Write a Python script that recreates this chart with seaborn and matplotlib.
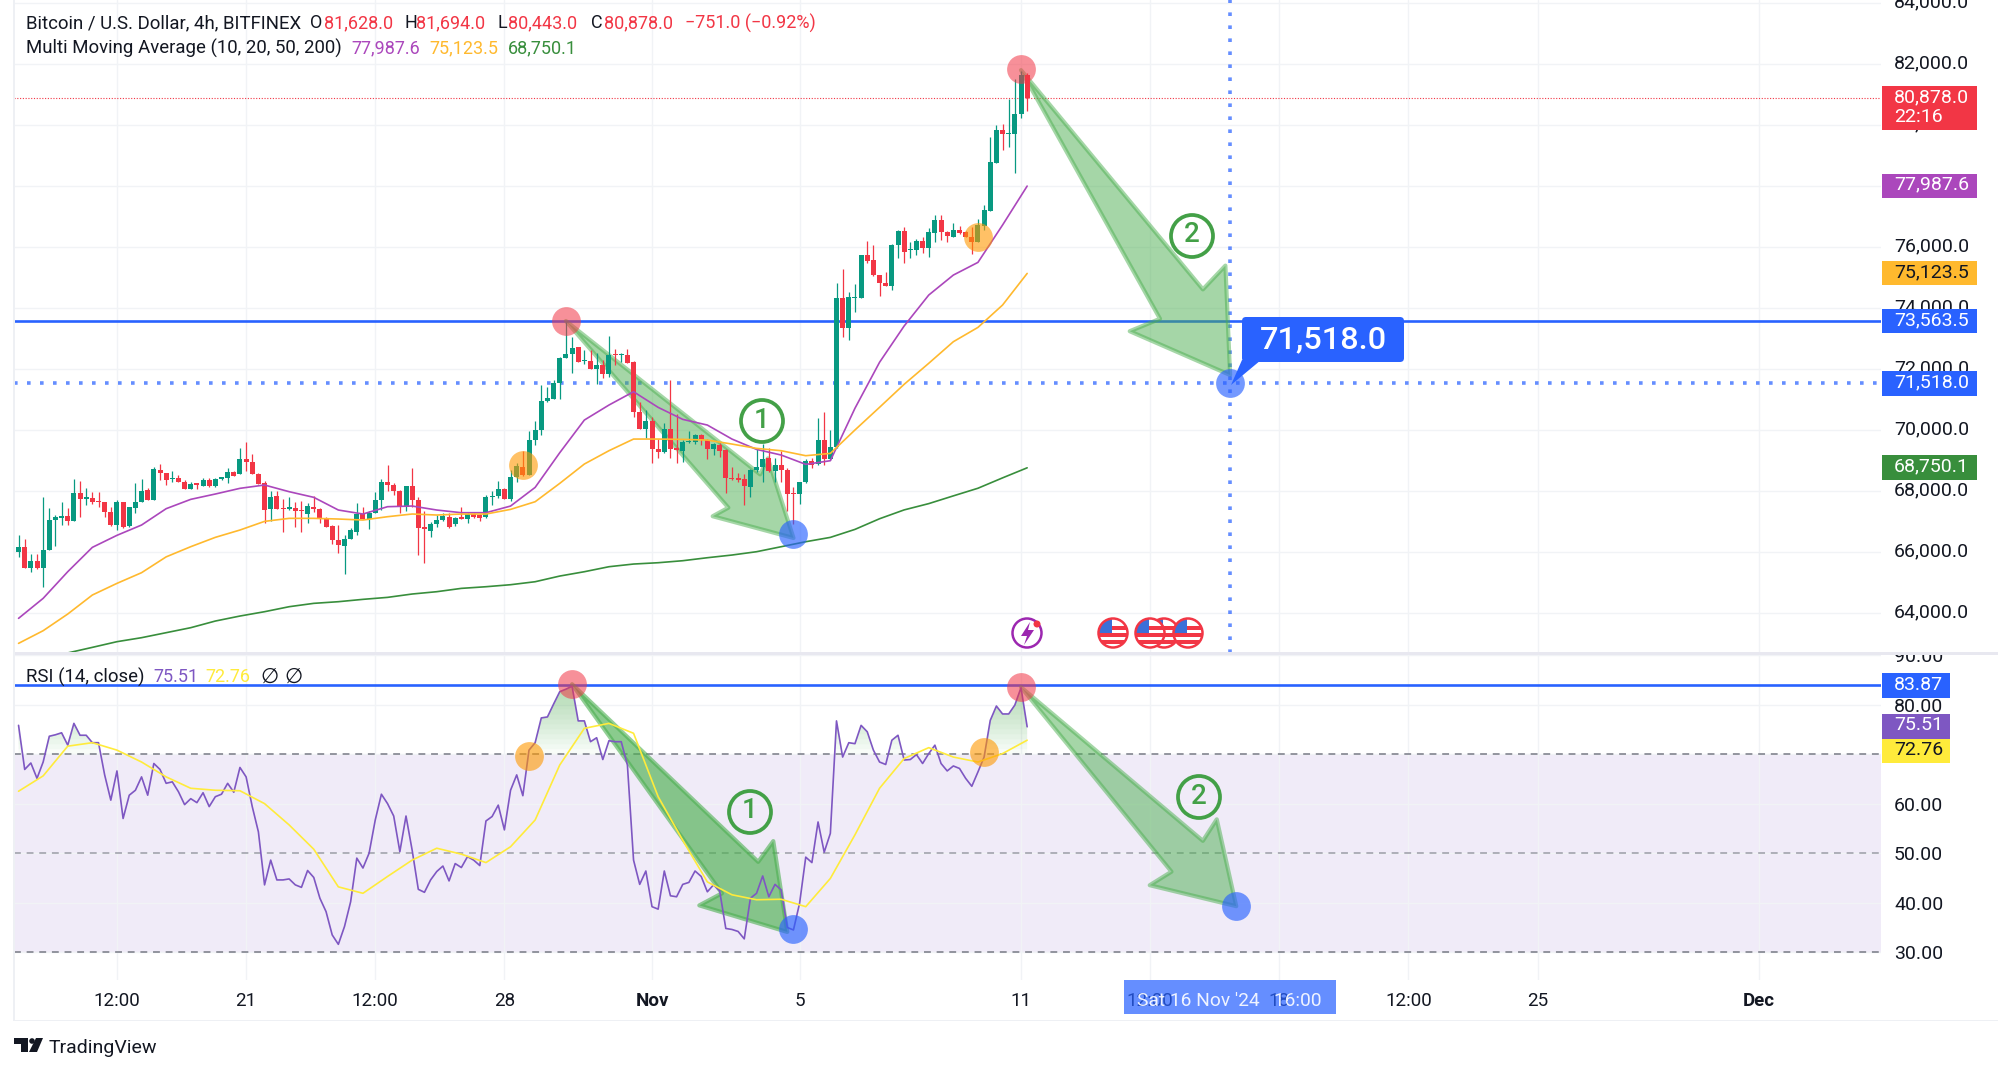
import numpy as np
import pandas as pd
import seaborn as sns
import matplotlib.pyplot as plt
import matplotlib.dates as mdates
from matplotlib.colors import to_rgba
from matplotlib.patches import Circle, FancyBboxPatch, Polygon, Rectangle
from matplotlib.transforms import IdentityTransform, ScaledTranslation

W, H = 1999, 1069

# candles, 4h bars
opens = [
    66000, 66164, 65475, 65705, 65475, 66044, 67027, 67104, 67180, 67016,
    67913, 67738, 67749, 67661, 67628, 67311, 66863, 67639, 66841, 67443,
    67618, 68011, 67705, 68678, 68590, 68372, 68426, 68295, 68066, 68240,
    68164, 68350, 68153, 68394, 68426, 68623, 68536, 69038, 68929, 68536,
    68262, 67399, 67814, 67443, 67410, 67421, 67366, 67246, 67475, 67399,
    67082, 66841, 66382, 66186, 66415, 66656, 67224, 67071, 67257, 67683,
    68273, 68197, 67989, 67475, 68142, 67683, 66798, 66688, 66896, 67038,
    67147, 66895, 67147, 67081, 67234, 67201, 67125, 67781, 67824, 68054,
    67715, 68458, 68764, 68513, 69671, 69977, 70950, 71016, 71519, 72338,
    72491, 72699, 72240, 72262, 72000, 72120, 71836, 72480, 72437, 72459,
    72218, 70579, 70032, 70284, 69354, 69256, 70021, 69398, 69311, 69595,
    69595, 69814, 69660, 69354, 69497, 69322, 68425, 68404, 68371, 68119,
    68688, 68786, 69059, 68644, 68841, 68688, 67934, 67879, 68272, 68972,
    68863, 69650, 69037, 69442, 74316, 73332, 74316, 74316, 75726, 75562,
    75059, 74797, 74710, 76065, 76502, 75879, 75890, 76174, 75956, 76437,
    76874, 76491, 76327, 76535, 76491, 76327, 76163, 76688, 77180, 78754,
    79825, 79683, 79694, 80360, 81628,
]
highs = [
    66546, 66426, 65912, 65912, 67803, 67421, 67202, 67639, 67421, 68372,
    68306, 68077, 67967, 67945, 67628, 67475, 67694, 67639, 67475, 68262,
    68372, 68077, 68787, 68874, 68590, 68634, 68525, 68350, 68295, 68240,
    68404, 68404, 68404, 68459, 68743, 68645, 69388, 69585, 69191, 68568,
    68328, 67989, 67989, 67716, 67803, 67618, 67661, 67585, 67814, 67421,
    67147, 66874, 66863, 66546, 66787, 67585, 67454, 67344, 67967, 68372,
    68853, 68262, 68022, 68153, 68754, 67803, 67344, 66984, 67202, 67257,
    67257, 67147, 67453, 67256, 67256, 67234, 67857, 67988, 68327, 68076,
    68677, 68895, 69300, 69967, 70294, 71464, 71409, 71628, 72393, 73541,
    73049, 72721, 72612, 72612, 72524, 72284, 73071, 72633, 72524, 72655,
    72262, 70896, 70644, 70426, 69704, 70207, 71628, 70502, 69660, 69945,
    69857, 69857, 69693, 69573, 69551, 69354, 68764, 68567, 68546, 68699,
    69409, 69529, 69387, 69059, 69300, 68731, 68130, 68294, 69037, 69059,
    70371, 70590, 69988, 74797, 75256, 74502, 74786, 75726, 76185, 76054,
    75070, 75158, 76076, 76546, 76655, 76163, 76240, 76305, 76622, 77038,
    77038, 76513, 76786, 76677, 76513, 76655, 76907, 77366, 79584, 79989,
    80022, 80830, 81497, 81770, 81694,
]
lows = [
    65836, 65453, 65344, 65432, 64830, 66044, 66197, 66885, 66885, 67016,
    67137, 67530, 67563, 67454, 67147, 66852, 66710, 66776, 66820, 67257,
    67618, 67694, 67694, 68350, 68175, 68273, 68284, 68055, 68055, 68066,
    68153, 68131, 68131, 68350, 68251, 68470, 68536, 68656, 68536, 68208,
    66951, 66994, 67410, 66645, 67366, 66820, 66656, 66951, 67290, 66929,
    66809, 66251, 65945, 65268, 66404, 66546, 67071, 66754, 67257, 67366,
    68000, 67847, 67257, 67344, 67475, 65880, 65617, 66470, 66820, 66994,
    66776, 66841, 67059, 66950, 67114, 67015, 67103, 67529, 67748, 67715,
    67671, 68294, 68491, 68502, 69497, 69824, 70917, 71005, 71005, 72338,
    71868, 72207, 72153, 71989, 71497, 71693, 71715, 72109, 72218, 72185,
    70426, 70010, 69715, 68917, 69059, 69245, 69081, 68917, 68939, 69573,
    69518, 69497, 69027, 69169, 69114, 67934, 68349, 68272, 67529, 67781,
    68622, 68294, 68622, 68294, 68294, 67343, 66906, 67562, 68261, 68731,
    68841, 68841, 69005, 69387, 73048, 72939, 73868, 74305, 75453, 75038,
    74393, 74699, 74589, 75617, 75453, 75617, 75726, 75781, 75671, 76163,
    76218, 76142, 76305, 76415, 76305, 75748, 76152, 76546, 77158, 78754,
    79169, 79257, 78426, 80229, 80443,
]
closes = [
    66164, 65475, 65705, 65475, 66055, 67027, 67126, 67169, 67016, 67913,
    67738, 67781, 67639, 67628, 67301, 66863, 67639, 66809, 67454, 67618,
    67989, 67705, 68700, 68590, 68361, 68426, 68295, 68066, 68219, 68197,
    68350, 68153, 68372, 68448, 68623, 68492, 69038, 68929, 68536, 68230,
    67366, 67803, 67410, 67410, 67454, 67333, 67322, 67497, 67399, 67082,
    66820, 66393, 66208, 66404, 66710, 67224, 67071, 67257, 67683, 68284,
    68197, 68000, 67497, 68142, 67694, 66787, 66732, 66896, 67038, 67169,
    66820, 67114, 67081, 67234, 67147, 67092, 67781, 67835, 68043, 67726,
    68458, 68797, 68502, 69671, 69977, 70950, 71027, 71519, 72349, 72491,
    72677, 72229, 72284, 71989, 72120, 71836, 72437, 72437, 72480, 72196,
    70590, 70032, 70284, 69354, 69267, 70032, 69354, 69344, 69595, 69639,
    69814, 69660, 69354, 69518, 69311, 68414, 68393, 68338, 68163, 68688,
    68775, 69048, 68644, 68841, 68688, 67890, 67890, 68272, 68961, 68852,
    69650, 69037, 69431, 74316, 73332, 74360, 74349, 75726, 75540, 75059,
    74797, 74710, 76065, 76502, 75835, 75912, 76185, 75956, 76469, 76874,
    76491, 76338, 76535, 76458, 76316, 76163, 76699, 77191, 78765, 79825,
    79683, 79727, 80360, 81628, 80878,
]

# moving averages, read every fourth bar
ma_purple = [
    63814, 64470, 65344, 66142, 66536, 66874, 67410, 67716, 67891, 68077,
    68186, 67967, 67782, 67366, 67235, 67475, 67497, 67366, 67278, 67278,
    67496, 68108, 69245, 70316, 70808, 71245, 70732, 70338, 70152, 69693,
    69354, 69169, 68863, 68983, 70702, 72210, 73400, 74415, 75070, 75486,
    76710, 77987.6,
]
ma_yellow = [
    62994, 63409, 63956, 64579, 64961, 65311, 65830, 66164, 66470, 66710,
    66994, 67093, 67093, 67071, 67038, 67147, 67235, 67202, 67234, 67234,
    67387, 67638, 68240, 68874, 69311, 69693, 69693, 69682, 69660, 69529,
    69387, 69311, 69147, 69223, 69990, 70734, 71488, 72177, 72885, 73354,
    74087, 75123.5,
]
ma_green = [
    62420, 62560, 62680, 62863, 63049, 63180, 63344, 63508, 63726, 63890,
    64032, 64196, 64306, 64360, 64437, 64502, 64612, 64688, 64797, 64851,
    64917, 65015, 65201, 65343, 65507, 65595, 65638, 65704, 65802, 65890,
    65999, 66163, 66327, 66469, 66731, 67080, 67370, 67576, 67830, 68080,
    68420, 68750.1,
]

rsi_values = [
    75.8, 66.9, 68.2, 65.1, 68.4, 73.6, 73.9, 74.3, 71.8, 76.2,
    73.8, 73.8, 72.3, 72.3, 65.8, 60.7, 66.6, 57.0, 61.7, 62.7,
    65.4, 61.7, 68.1, 66.9, 64.1, 64.4, 62.4, 59.8, 61.0, 60.2,
    62.2, 59.4, 61.4, 61.9, 64.1, 62.3, 67.3, 65.4, 59.4, 54.3,
    43.6, 48.6, 44.6, 44.6, 44.8, 43.6, 43.1, 46.5, 45.1, 40.9,
    38.2, 33.5, 31.6, 35.2, 40.2, 49.0, 47.0, 50.0, 56.7, 61.9,
    60.0, 57.5, 50.3, 57.5, 50.6, 42.7, 42.1, 44.6, 46.3, 47.4,
    44.4, 47.9, 47.1, 49.3, 48.6, 47.5, 56.5, 57.4, 59.7, 54.7,
    62.7, 65.8, 61.6, 70.8, 72.3, 77.3, 77.5, 80.1, 82.6, 83.1,
    83.7, 76.7, 76.7, 72.5, 73.3, 68.9, 72.7, 72.5, 72.5, 67.8,
    48.6, 43.7, 46.4, 39.2, 38.7, 46.4, 41.4, 41.2, 43.7, 44.1,
    46.4, 45.3, 42.2, 43.6, 42.4, 34.8, 34.6, 34.2, 32.7, 40.9,
    41.9, 45.4, 41.2, 43.7, 42.6, 35.0, 34.5, 39.9, 49.2, 48.1,
    56.3, 50.2, 54.0, 76.7, 69.4, 72.3, 72.1, 75.8, 74.5, 70.8,
    68.4, 67.9, 72.8, 73.8, 68.8, 68.9, 69.9, 68.1, 70.1, 71.8,
    68.1, 66.6, 67.6, 67.1, 65.1, 63.5, 66.4, 69.4, 76.8, 79.7,
    78.1, 78.1, 79.9, 83.4, 75.51,
]
rsi_ma_values = [
    62.5, 65.6, 71.6, 72.3, 70.8, 68.4, 65.4, 63.1, 62.7, 62.6,
    60.0, 55.7, 50.8, 43.2, 41.9, 45.3, 48.6, 51.0, 49.8, 48.1,
    51.3, 56.7, 67.8, 75.2, 76.2, 74.2, 61.4, 52.6, 44.2, 41.6,
    40.6, 40.7, 39.2, 44.9, 53.7, 63.1, 69.1, 71.3, 69.4, 68.4,
    70.1, 72.8,
]

price_ticks = list(range(64000, 86000, 2000))
rsi_ticks = [30, 40, 50, 60, 70, 80, 90]
time_ticks = [
    ('2024-10-17 12:00', '12:00'), ('2024-10-21', '21'), ('2024-10-24 12:00', '12:00'),
    ('2024-10-28', '28'), ('2024-11-01', 'Nov'), ('2024-11-05', '5'), ('2024-11-11', '11'),
    ('2024-11-14 12:00', '12:00'), ('2024-11-18', '18'), ('2024-11-21 12:00', '12:00'),
    ('2024-11-25', '25'), ('2024-12-01', 'Dec'),
]

UP, DOWN = '#089981', '#f23645'
BLUE, ARROW = '#2962ff', '#4caf50'
GRID = '#f1f3f6'
TEXT = '#131722'


def px(x, y):
    return x, H - y


def fig_text(x, y, s, **kw):
    kw.setdefault('color', TEXT)
    kw.setdefault('fontsize', 13)
    kw.setdefault('va', 'center')
    return fig.text(x / W, 1 - y / H, s, zorder=6, **kw)


def fig_shape(patch, z=5):
    patch.set_transform(IdentityTransform())
    patch.set_zorder(z)
    fig.add_artist(patch)
    return patch


def tag(y0, y1, x1, label, fill, color='white', text_y=None):
    fig_shape(Rectangle(px(1882, y1), x1 - 1882, y1 - y0, fc=fill, ec='none'))
    fig_text(1894, (y0 + y1) / 2 - 1 if text_y is None else text_y, label, color=color, fontsize=14)


def big_arrow(ax, start, end, head, half, notch, alpha=0.5, edge_alpha=0.5):
    p0 = ax.transData.transform(start)
    p1 = ax.transData.transform(end)
    d = (p1 - p0) / np.linalg.norm(p1 - p0)
    n = np.array([-d[1], d[0]])
    base = p1 - d * head
    pts = [p0, base + n * notch, p1 - d * head * 1.08 + n * half, p1,
           p1 - d * head * 1.08 - n * half, base - n * notch]
    ax.add_patch(Polygon(pts, closed=True, transform=IdentityTransform(),
                         fc=to_rgba(ARROW, alpha), ec=to_rgba(ARROW, edge_alpha),
                         lw=3, joinstyle='round', zorder=2))


def number_badge(x, y, label):
    fig_shape(Circle(px(x, y), 21, fc='none', ec='#43a047', lw=2.7))
    fig_text(x, y - 1, label, color='#43a047', fontsize=20, ha='center', fontweight='medium')


def us_flag(x, y):
    disc = fig_shape(Circle(px(x, y), 14, fc='white', ec='none'))
    for sy in (y - 7, y, y + 7):
        bar = fig_shape(Rectangle(px(x - 15, sy + 3.5), 30, 3.5, fc='#f23645', ec='none'))
        bar.set_clip_path(disc)
    canton = fig_shape(Rectangle(px(x - 15, y), 14, 14, fc='#3b6fd8', ec='none'))
    canton.set_clip_path(disc)
    fig_shape(Circle(px(x, y), 14.5, fc='none', ec='#f23645', lw=1.8))


def dots(axis, xs, ys, color, alpha):
    sns.scatterplot(x=xs, y=ys, s=430, color=color, alpha=alpha, linewidth=0,
                    legend=False, ax=axis, zorder=4)


sns.set_theme(style='white')
plt.rcParams['font.family'] = ['Roboto', 'DejaVu Sans']

bar_times = pd.date_range(end='2024-11-11 04:00', periods=len(closes), freq='4h')
df = pd.DataFrame({'t': mdates.date2num(bar_times), 'open': opens, 'high': highs,
                   'low': lows, 'close': closes, 'rsi': rsi_values})
df_ma = df.iloc[::4].copy()
df_ma['purple'] = ma_purple
df_ma['yellow'] = ma_yellow
df_ma['green'] = ma_green
df_ma['rsi_ma'] = rsi_ma_values

t0 = mdates.date2num(pd.Timestamp('2024-11-11'))
x_lim = (t0 + (14 - 1021) / 36.9, t0 + (1881 - 1021) / 36.9)
target_t = mdates.date2num(pd.Timestamp('2024-11-16 16:00'))
rsi_target_t = mdates.date2num(pd.Timestamp('2024-11-16 20:00'))

fig = plt.figure(figsize=(W / 100, H / 100), dpi=100, facecolor='white')
ax = fig.add_axes([14 / W, 1 - 653 / H, (1881 - 14) / W, 653 / H])
ax_rsi = fig.add_axes([14 / W, 1 - 980 / H, (1881 - 14) / W, (980 - 655) / H])

tick_pos = [mdates.date2num(pd.Timestamp(t)) for t, _ in time_ticks]
for a in (ax, ax_rsi):
    a.set_xlim(*x_lim)
    a.set_xticks(tick_pos)
    a.yaxis.tick_right()
    a.grid(True, color=GRID, lw=1)
    a.set_axisbelow(True)
    a.tick_params(length=0, labelsize=14, labelcolor=TEXT)
    a.tick_params(axis='y', pad=9.4)
    for spine in a.spines.values():
        spine.set_visible(False)

ax.set_ylim(62678, 84089)
ax.set_yticks(price_ticks, [f'{v:,.1f}' for v in price_ticks])
ax.tick_params(labelbottom=False)
ax_rsi.set_ylim(24.4, 89.94)
ax_rsi.set_yticks(rsi_ticks, [f'{v:.2f}' for v in rsi_ticks])
ax_rsi.set_xticks(tick_pos, [label for _, label in time_ticks])
ax_rsi.tick_params(axis='x', pad=8.8, labelsize=13.5)
for text, (_, label) in zip(ax_rsi.get_xticklabels(), time_ticks):
    if label in ('Nov', 'Dec'):
        text.set_fontweight('bold')
# the price labels sit a little high on the scale
lift = ScaledTranslation(0, 1.6 / 72, fig.dpi_scale_trans)
for text in ax.get_yticklabels():
    text.set_transform(text.get_transform() + lift)

# price pane
ax.axhline(73563.5, color=BLUE, lw=1.9, zorder=1.5)
ax.axhline(71518, color=BLUE, alpha=0.72, lw=2.6, ls=(0, (1, 2.6)), dash_capstyle='butt', zorder=1.5)
ax.axvline(target_t, color=BLUE, alpha=0.72, lw=2.6, ls=(0, (1, 2.6)), dash_capstyle='butt', zorder=1.5)
ax.axhline(80878, color=DOWN, lw=0.8, ls=(0, (1, 1.5)), zorder=1.5)

big_arrow(ax, (df.t[89], 73563.5), (df.t[126], 66450), 68, 40, 23)
big_arrow(ax, (df.t[163], 81790), (target_t, 71793), 86, 58, 26)

colors = np.where(df.close >= df.open, UP, DOWN)
ax.vlines(df.t, df.low, df.high, colors=colors, lw=0.9, zorder=3)
ax.bar(df.t, (df.close - df.open).abs().clip(lower=20), bottom=df[['open', 'close']].min(axis=1),
       width=5 / 36.9, color=colors, lw=0, zorder=3.1)

for col, color in (('purple', '#ab47bc'), ('yellow', '#ffb92e'), ('green', '#388e3c')):
    sns.lineplot(data=df_ma, x='t', y=col, color=color, lw=1.2, estimator=None, ax=ax, zorder=3.5)

dots(ax, [df.t[89], df.t[163]], [73563.5, 81826], DOWN, 0.55)
dots(ax, [df.t[82], df.t[156]], [68852, 76328], '#ff9800', 0.6)
dots(ax, [df.t[126], target_t], [66580, 71518], BLUE, 0.65)

# rsi pane
ax_rsi.axhspan(30, 70, color='#7e57c2', alpha=0.115, lw=0, zorder=0.5)
for level in range(70, 84):
    ax_rsi.fill_between(df.t, level, df.rsi, where=df.rsi > level, interpolate=True,
                        color=ARROW, alpha=0.035, lw=0, zorder=1)
for level, a_level in ((70, 0.85), (50, 0.6), (30, 0.85)):
    ax_rsi.axhline(level, color='#787b86', alpha=a_level, lw=1.3, ls=(0, (3.8, 3.2)), zorder=1.2)
ax_rsi.axhline(83.87, color=BLUE, lw=1.9, zorder=1.5)

big_arrow(ax_rsi, (df.t[90], 84.1), (df.t[125], 34.1), 72, 49, 24, alpha=0.65, edge_alpha=0.6)
big_arrow(ax_rsi, (df.t[163], 83.5), (rsi_target_t, 39.3), 70, 47, 22)

sns.lineplot(data=df, x='t', y='rsi', color='#7e57c2', lw=1.2, estimator=None, ax=ax_rsi, zorder=3)
sns.lineplot(data=df_ma, x='t', y='rsi_ma', color='#ffeb3b', lw=1.2, estimator=None, ax=ax_rsi, zorder=3)

dots(ax_rsi, [df.t[90], df.t[163]], [84.1, 83.5], DOWN, 0.55)
dots(ax_rsi, [df.t[83], df.t[157]], [69.6, 70.5], '#ff9800', 0.6)
dots(ax_rsi, [df.t[126], rsi_target_t], [34.7, 39.4], BLUE, 0.65)

for a in (ax, ax_rsi):
    a.set_xlabel('')
    a.set_ylabel('')
    a.set_xlim(*x_lim)

# legends, top left of each pane
fig_text(26, 23, 'Bitcoin / U.S. Dollar, 4h, BITFINEX', fontsize=13.4)
for x, s, c in ((310, 'O', TEXT), (324, '81,628.0', DOWN), (404, 'H', TEXT), (416, '81,694.0', DOWN),
                (498, 'L', TEXT), (508, '80,443.0', DOWN), (591, 'C', TEXT), (604, '80,878.0', DOWN),
                (685, '\u2212751.0 (\u22120.92%)', DOWN)):
    fig_text(x, 23, s, color=c)
fig_text(26, 48, 'Multi Moving Average (10, 20, 50, 200)', fontsize=13.4)
for x, s, c in ((351, '77,987.6', '#ab47bc'), (429.5, '75,123.5', '#ffb92e'), (507.6, '68,750.1', '#388e3c')):
    fig_text(x, 48, s, color=c)
fig_text(26, 677, 'RSI (14, close)', fontsize=13.4)
fig_text(153, 677, '75.51', color='#7e57c2')
fig_text(205, 677, '72.76', color='#ffeb3b')
fig_text(260, 677, '\u2205', family=['DejaVu Sans'], fontsize=15)
fig_text(284, 677, '\u2205', family=['DejaVu Sans'], fontsize=15)

# pane separator and outer frame
fig_shape(Rectangle(px(1882, 652), 117, 12, fc='white', ec='none'), z=2)
fig_shape(Rectangle(px(14, 655), W - 14, 3, fc='#e8e8f0', ec='none'), z=2)
fig_shape(Rectangle(px(14, 1021), W - 14, 1.5, fc='#eef0f4', ec='none'), z=2)
fig_shape(Rectangle(px(13, 1021), 1.5, 1021, fc='#eef0f4', ec='none'), z=2)

# price scale tags
fig_shape(Rectangle(px(1882, 130), 95, 44, fc=DOWN, ec='none'))
fig_text(1894, 97, '80,878.0', color='white', fontsize=14)
fig_text(1894, 117, '22:16', color='white', fontsize=14)
tag(173.5, 198, 1977, '77,987.6', '#ab47bc')
tag(261, 285, 1977, '75,123.5', '#ffb92e', color=TEXT)
tag(309, 333, 1977, '73,563.5', BLUE)
tag(371, 395.5, 1977, '71,518.0', BLUE)
tag(455, 480, 1977, '68,750.1', '#388e3c')
tag(673, 698, 1950, '83.87', BLUE)
tag(714, 739, 1950, '75.51', '#7e57c2')
tag(739, 763, 1950, '72.76', '#ffeb3b', color=TEXT)

# callout on the target price
fig_shape(Polygon([px(1242, 360), px(1261, 360), px(1231, 385)], closed=True, fc=BLUE, ec='none'))
fig_shape(FancyBboxPatch(px(1246, 358), 154, 37, boxstyle='round,pad=4', fc=BLUE, ec='none'))
fig_text(1323, 340, '71,518.0', color='white', fontsize=23.4, ha='center', fontweight='medium')

# crosshair time label
fig_shape(Rectangle(px(1124, 1014), 212, 34, fc=BLUE, alpha=0.72, ec='none'))
fig_text(1229, 1001, "Sat 16 Nov '24   16:00", color='white', fontsize=13.8, ha='center', alpha=0.9)

number_badge(762, 421, '1')
number_badge(1192, 236, '2')
number_badge(750, 812, '1')
number_badge(1199, 797, '2')

# event icons
fig_shape(Circle(px(1027, 633), 14.5, fc='white', ec='#9c27b0', lw=1.8))
fig_shape(Polygon([px(1030, 622), px(1021, 636), px(1027, 636), px(1024, 645), px(1034, 630), px(1028, 630)],
                  closed=True, fc='#9c27b0', ec='none'))
fig_shape(Circle(px(1037, 624), 3.5, fc=DOWN, ec='none'))
for fx in (1164, 1150, 1188, 1113):
    us_flag(fx, 633)

# TradingView mark
fig_shape(Polygon([px(14, 1038), px(28, 1038), px(28, 1052), px(21, 1052), px(21, 1044), px(14, 1044)],
                  closed=True, fc=TEXT, ec='none'))
fig_shape(Circle(px(32, 1041), 2.8, fc=TEXT, ec='none'))
fig_shape(Polygon([px(36, 1038), px(43, 1038), px(37, 1052), px(29, 1052)], closed=True, fc=TEXT, ec='none'))
fig_text(49, 1048, 'TradingView', fontsize=14)

fig.savefig('out.png', dpi=100, facecolor='white')
